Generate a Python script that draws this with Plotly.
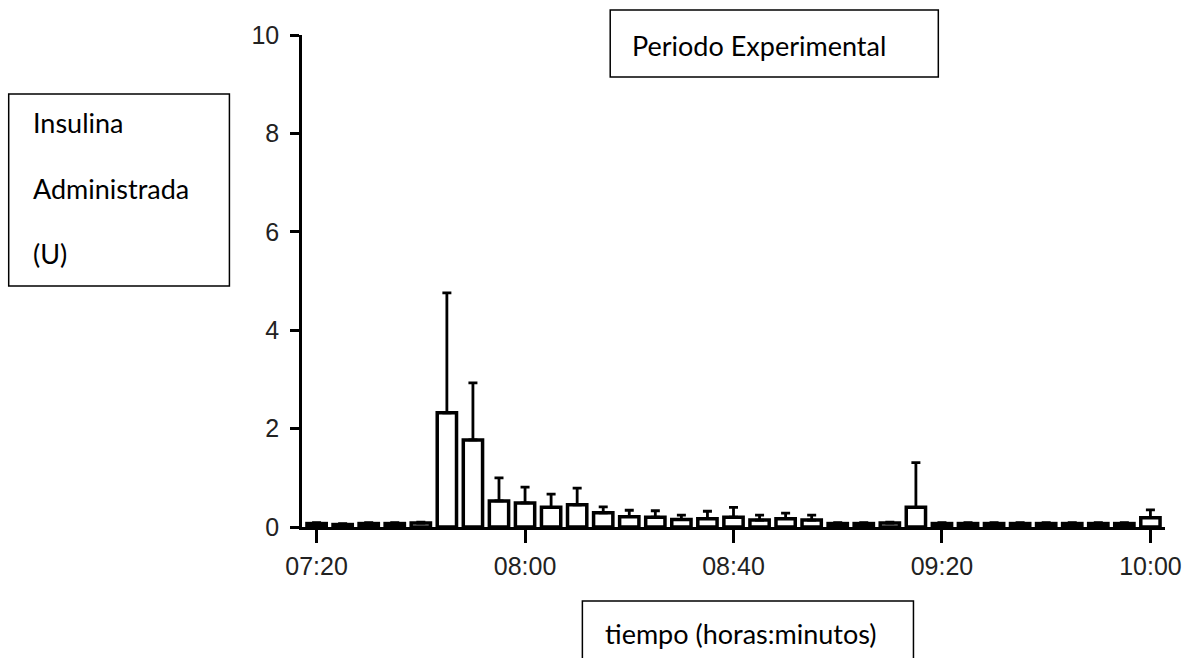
import plotly.graph_objects as go

# ---- data ----
times = ["07:20", "07:25", "07:30", "07:35", "07:40", "07:45", "07:50", "07:55",
         "08:00", "08:05", "08:10", "08:15", "08:20", "08:25", "08:30", "08:35",
         "08:40", "08:45", "08:50", "08:55", "09:00", "09:05", "09:10", "09:15",
         "09:20", "09:25", "09:30", "09:35", "09:40", "09:45", "09:50", "09:55",
         "10:00"]
insulin = [0.07, 0.05, 0.07, 0.07, 0.08, 2.32, 1.77, 0.53,
           0.49, 0.40, 0.45, 0.29, 0.21, 0.20, 0.15, 0.17,
           0.20, 0.14, 0.17, 0.14, 0.07, 0.07, 0.08, 0.40,
           0.07, 0.07, 0.07, 0.07, 0.07, 0.07, 0.07, 0.07,
           0.19]
err_up = [0.02, 0.02, 0.02, 0.02, 0.02, 2.44, 1.16, 0.47,
          0.32, 0.27, 0.34, 0.12, 0.13, 0.13, 0.09, 0.15,
          0.20, 0.10, 0.11, 0.10, 0.02, 0.02, 0.02, 0.91,
          0.02, 0.02, 0.02, 0.02, 0.02, 0.02, 0.02, 0.02,
          0.16]
x_tick_labels = ["07:20", "08:00", "08:40", "09:20", "10:00"]
y_tick_values = [0, 2, 4, 6, 8, 10]


def to_min(t):
    h, m = t.split(":")
    return int(h) * 60 + int(m)


xs = [to_min(t) for t in times]
tickvals = [to_min(t) for t in x_tick_labels]

W, H = 1194, 658
L, R, T, B = 302, 24, 35, 131
PW, PH = W - L - R, H - T - B


def px(x):
    return (x - L) / PW


def py(y):
    return (H - B - y) / PH


fig = go.Figure()
fig.add_trace(go.Bar(
    x=xs, y=insulin, width=3.7,
    marker=dict(color="white", line=dict(color="black", width=3.5)),
    error_y=dict(type="data", array=err_up, arrayminus=[0] * len(err_up),
                 symmetric=False, color="black", thickness=2.8, width=4.5),
    showlegend=False,
))

tickfont = dict(family="Liberation Sans, Arial, sans-serif", size=25, color="#222222")
fig.update_layout(
    width=W, height=H, autosize=False,
    margin=dict(l=L, r=R, t=T, b=B, pad=0),
    plot_bgcolor="white", paper_bgcolor="white",
    xaxis=dict(range=[437.2, 602.8], tickvals=tickvals, ticktext=x_tick_labels,
               showline=True, linecolor="black", linewidth=2.5,
               ticks="outside", ticklen=13, tickwidth=2.5, tickcolor="black",
               showgrid=False, zeroline=False, tickfont=tickfont,
               ticklabelstandoff=2),
    yaxis=dict(range=[0, 10], tickvals=y_tick_values,
               ticktext=[str(v) for v in y_tick_values],
               showline=True, linecolor="black", linewidth=2.5,
               ticks="outside", ticklen=9, tickwidth=2.5, tickcolor="black",
               showgrid=False, zeroline=False, tickfont=tickfont,
               ticklabelstandoff=6),
)

boxfont = dict(family="Lato, sans-serif", size=27, color="black")
boxes = [(612, 10, 942, 77), (7, 94, 229, 286), (584, 601, 917, 670)]
for x0, y0, x1, y1 in boxes:
    fig.add_shape(type="rect", xref="paper", yref="paper",
                  x0=px(x0), x1=px(x1), y0=py(y0), y1=py(y1),
                  line=dict(color="black", width=1.5), fillcolor="white",
                  layer="above")

texts = [("Periodo Experimental", 632, 45), ("Insulina", 29, 122),
         ("Administrada", 29, 188), ("(U)", 29, 254),
         ("tiempo (horas:minutos)", 605, 633)]
for txt, x, y in texts:
    fig.add_annotation(text=txt, xref="paper", yref="paper", x=px(x), y=py(y),
                       xanchor="left", yanchor="middle", showarrow=False,
                       font=boxfont)

fig.write_html("out.html")
